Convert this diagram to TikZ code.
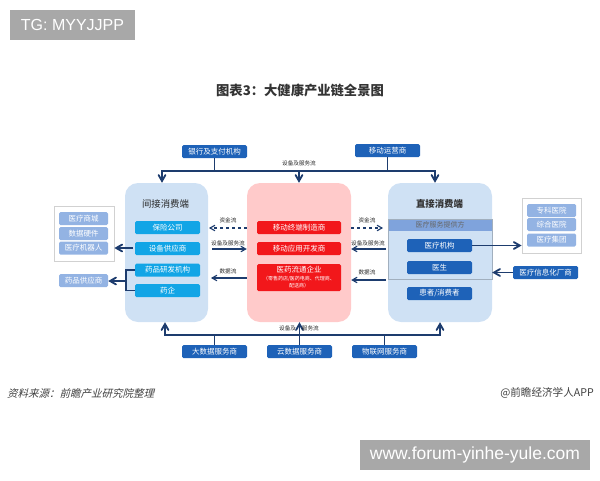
\documentclass[tikz,border=0pt]{standalone}
\usepackage{fontspec}
\usepackage{xcolor}
\usetikzlibrary{arrows, calc, positioning}
\setmainfont{Noto Sans CJK SC}
\newfontfamily\latinfont{Liberation Sans}
\newfontfamily\slantfont[FakeSlant=0.25]{Noto Sans CJK SC}
\definecolor{tagbg}{HTML}{A8A8A8}
\definecolor{darkbox}{HTML}{1E62B8}
\definecolor{cyanbox}{HTML}{12A5E6}
\definecolor{redbox}{HTML}{F2171B}
\definecolor{pinkpanel}{HTML}{FFCACA}
\definecolor{bluepanel}{HTML}{CFE1F4}
\definecolor{softbox}{HTML}{93B3E3}
\definecolor{bandblue}{HTML}{7FA3DC}
\definecolor{linkblue}{HTML}{1D3C6E}
\tikzset{
  % Main flow arrow style
  garr/.style={
    line width = 0.65mm
    , color=linkblue
  },
}
\tikzset{
  % Flow arrow between panels
  farr/.style={
    line width = 0.4mm
    , color=linkblue
  },
}
\tikzset{
  % Flow arrow style (dashed)
  darr/.style={
    line width = 0.4mm
    , color=linkblue
    , dashed
  },
}
\tikzset{
  % big rounded panel
  panel/.style={
    rounded corners=13pt
    , inner sep=0pt
  },
}
\tikzset{
  % small box base style
  item/.style={
    rounded corners=1.5pt
    , inner sep=0pt
    , minimum width=65pt
    , minimum height=13pt
    , text=white
    , font=\fontsize{7.5}{9}\selectfont
    , align=center
  },
  darkitem/.style={item, fill=darkbox},
  cyanitem/.style={item, fill=cyanbox},
  reditem/.style={item, fill=redbox, minimum width=84pt},
  softitem/.style={item, fill=softbox, minimum width=49pt},
  % flow label
  flowlabel/.style={
    inner sep=0pt
    , text=black!85
    , font=\fontsize{5.6}{7}\selectfont
  },
  % grey tag in the corners
  tag/.style={
    fill=tagbg
    , inner sep=0pt
    , text=white
  },
}

\begin{document}
\begin{tikzpicture}[x=1pt, y=-1pt, >=angle 60]
  \useasboundingbox (0,0) rectangle (600,480);

  \node[tag, minimum width=125pt, minimum height=30pt, font=\latinfont\fontsize{16}{18}\selectfont] (tagtop) at (72.5,25) {TG: MYYJJPP};
  \node[inner sep=0pt, font=\bfseries\fontsize{13.3}{16}\selectfont, text=black!80] (title) at (300,90) {图表3：大健康产业链全景图};

  % panels
  \node[panel, fill=bluepanel, minimum width=83pt, minimum height=139pt] (indirect) at (166.5,252.5) {};
  \node[panel, fill=pinkpanel, minimum width=104pt, minimum height=139pt] (centre) at (299,252.5) {};
  \node[panel, fill=bluepanel, minimum width=104pt, minimum height=139pt] (direct) at (440,252.5) {};
  \node[inner sep=0pt, font=\fontsize{9.4}{11}\selectfont, text=black!85] (indirecthead) at (165.5,204) {间接消费端};
  \node[inner sep=0pt, font=\bfseries\fontsize{9.4}{11}\selectfont, text=black!80] (directhead) at (439.5,204) {直接消费端};

  % left column
  \node[draw=black!18, line width=0.8pt, minimum width=60pt, minimum height=55pt, inner sep=0pt] (leftframe) at (84,233.5) {};
  \node[softitem] (mall) at (83.5,218.5) {医疗商城};
  \node[softitem] (parts) at (83.5,233.5) {数据硬件};
  \node[softitem] (robot) at (83.5,248) {医疗机器人};
  \node[softitem] (drugsup) at (83.5,280.5) {药品供应商};

  \node[cyanitem] (insure) at (167.5,227.5) {保险公司};
  \node[cyanitem] (equip) at (167.5,248.5) {设备供应商};
  \node[cyanitem] (rnd) at (167.5,270) {药品研发机构};
  \node[cyanitem] (pharma) at (167.5,290.5) {药企};

  % centre column
  \node[reditem] (maker) at (299,227.5) {移动终端制造商};
  \node[reditem] (appdev) at (299,248.5) {移动应用开发商};
  \node[reditem, minimum height=27pt] (circ) at (299,277.5) {医药流通企业\\[-1pt]{\fontsize{5}{6}\selectfont（零售药店/医药电商、代理商、}\\[-2pt]{\fontsize{5}{6}\selectfont 配送商）}};

  % right column
  \node[fill=bandblue, inner sep=0pt, minimum width=104pt, minimum height=12pt, text=black!60, font=\fontsize{7}{9}\selectfont] (band) at (440,225) {医疗服务提供方};
  \node[draw=black!22!bluepanel, line width=0.7pt, inner sep=0pt, minimum width=104pt, minimum height=60pt] (bandframe) at (440,249) {};
  \node[darkitem] (hospital) at (439.5,245.5) {医疗机构};
  \node[darkitem] (doctor) at (439.5,267.5) {医生};
  \node[darkitem] (patient) at (439.5,293.5) {患者/消费者};

  \node[draw=black!18, line width=0.8pt, minimum width=59pt, minimum height=55pt, inner sep=0pt] (rightframe) at (551.5,225.5) {};
  \node[softitem] (special) at (551.5,210.5) {专科医院};
  \node[softitem] (general) at (551.5,224.5) {综合医院};
  \node[softitem] (group) at (551.5,240) {医疗集团};
  \node[darkitem] (itvendor) at (545.5,272.5) {医疗信息化厂商};

  % top and bottom suppliers
  \node[darkitem] (bank) at (214.5,151.5) {银行及支付机构};
  \node[darkitem] (mobile) at (387.5,150.5) {移动运营商};
  \node[darkitem] (bigdata) at (214.5,351.5) {大数据服务商};
  \node[darkitem] (cloud) at (299.5,351.5) {云数据服务商};
  \node[darkitem] (iot) at (384.5,351.5) {物联网服务商};

  % trunk ends
  \coordinate (topl) at (162,171);
  \coordinate (topr) at (435,171);
  \coordinate (botl) at (165,335);
  \coordinate (botr) at (440,335);

  % top trunk
  \draw[->, garr] (bank.south) to (bank.south |- topl) -| (topl -| centre.north) to (centre.north);
  \draw[garr] (mobile.south) to (mobile.south |- topl);
  \draw[->, garr] (topl -| centre.north) -| (indirect.north -| topl);
  \draw[->, garr] (topl -| centre.north) -| (direct.north -| topr);

  % bottom trunk
  \draw[garr] (bigdata.north) to (bigdata.north |- botl);
  \draw[garr] (iot.north) to (iot.north |- botl);
  \draw[->, garr] (cloud.north) to (cloud.north |- centre.south);
  \draw[->, garr] (cloud.north |- botl) -| (indirect.south -| botl);
  \draw[->, garr] (cloud.north |- botl) -| (direct.south -| botr);

  % flows, left side
  \coordinate (fundl) at (209,228);
  \coordinate (equipl) at (212,249);
  \coordinate (datal) at (211,278);
  \draw[->, darr] (centre.west |- fundl) to (fundl);
  \draw[->, farr] (equipl) to (equipl -| centre.west);
  \draw[->, farr] (centre.west |- datal) to (datal);

  % flows, right side
  \coordinate (fundr) at (383,228);
  \coordinate (equipr) at (386,249);
  \coordinate (datar) at (386,280);
  \draw[->, darr] (centre.east |- fundr) to (fundr);
  \draw[->, farr] (equipr) to (equipr -| centre.east);
  \draw[->, farr] (datar) to (datar -| centre.east);

  % side arrows
  \coordinate (equipout) at (133,248);
  \coordinate (drugjoin) at (126,281);
  \draw[->, garr] (equipout) to (leftframe.east |- equipout);
  \draw[garr] (rnd.west) -| (drugjoin) |- (pharma.west);
  \draw[->, garr] (drugjoin) to (drugsup.east |- drugjoin);
  \draw[->, garr] (hospital.east) to (rightframe.west |- hospital.east);
  \draw[->, garr] (itvendor.west) to (direct.east |- itvendor.west);

  % flow labels
  \node[flowlabel] (fundll) at (228,220) {资金流};
  \node[flowlabel] (equipll) at (228,243) {设备及服务流};
  \node[flowlabel] (datall) at (228,271.5) {数据流};
  \node[flowlabel] (fundrl) at (367,220) {资金流};
  \node[flowlabel] (equiprl) at (368,243) {设备及服务流};
  \node[flowlabel] (datarl) at (367,272) {数据流};
  \node[flowlabel] (toplabel) at (299,163) {设备及服务流};
  \node[flowlabel] (botlabel) at (299,328) {设备及\hspace{6pt}服务流};

  % footer
  \node[inner sep=0pt, anchor=west, text=black!75, font=\slantfont\fontsize{10.5}{12}\selectfont] (source) at (7,393) {资料来源：前瞻产业研究院整理};
  \node[inner sep=0pt, anchor=east, text=black!75, font=\fontsize{10.6}{12}\selectfont] (brand) at (594,393) {@前瞻经济学人APP};
  \node[tag, minimum width=230pt, minimum height=30pt, font=\latinfont\fontsize{17.5}{20}\selectfont] (tagbottom) at (475,455) {www.forum-yinhe-yule.com};
\end{tikzpicture}
\end{document}
